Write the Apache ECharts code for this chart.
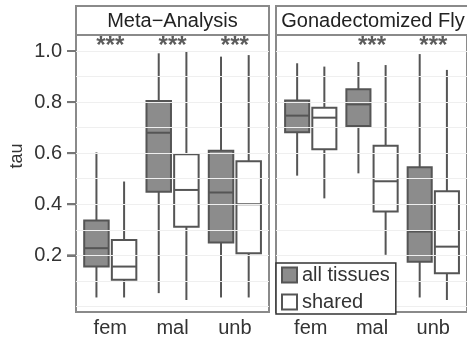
<!DOCTYPE html>
<html>
<head>
<meta charset="utf-8">
<script src="https://cdn.jsdelivr.net/npm/echarts@6/dist/echarts.min.js"></script>
<style>
html,body{margin:0;padding:0;background:#fff;}
#chart{width:467px;height:342px;}
</style>
</head>
<body>
<div id="chart"></div>
<script>
// ---- data ----
const categories = ['fem', 'mal', 'unb'];
const panelTitles = ['Meta\u2212Analysis', 'Gonadectomized Fly'];
const seriesNames = ['all tissues', 'shared'];
// [lower whisker, Q1, median, Q3, upper whisker]
const metaAll    = [[0.035, 0.156, 0.228, 0.336, 0.603], [0.052, 0.449, 0.680, 0.804, 0.991], [0.035, 0.250, 0.446, 0.609, 0.978]];
const metaShared = [[0.035, 0.104, 0.156, 0.260, 0.489], [0.025, 0.312, 0.456, 0.596, 0.997], [0.035, 0.208, 0.400, 0.568, 0.984]];
const gonadAll    = [[0.512, 0.682, 0.747, 0.806, 0.952], [0.521, 0.706, 0.791, 0.850, 0.957], [0.035, 0.175, 0.293, 0.545, 0.988]];
const gonadShared = [[0.423, 0.615, 0.739, 0.778, 0.939], [0.202, 0.372, 0.490, 0.629, 0.945], [0.025, 0.130, 0.234, 0.451, 0.926]];
const metaStars  = ['***', '***', '***'];
const gonadStars = ['', '***', '***'];
const yTicks = [0.2, 0.4, 0.6, 0.8, 1.0];
const gridValues = [0.0, 0.1, 0.2, 0.3, 0.4, 0.5, 0.6, 0.7, 0.8, 0.9, 1.0];

// ---- style ----
const FONT = 'Liberation Sans';
const PANEL = '#8a8a8a';
const LINE = '#555555';
const FILL_ALL = '#8c8c8c';
const FILL_SHARED = '#ffffff';
const OFFSET = 0.222;
const BOXW = 0.393;
const STAR_Y = 1.02;
const TICK_LEN = 9;

function boxRenderer(offset, fill) {
  return function (params, api) {
    const xi = api.value(0) + offset;
    const pLow = api.coord([xi, api.value(1)]);
    const pQ1 = api.coord([xi, api.value(2)]);
    const pMed = api.coord([xi, api.value(3)]);
    const pQ3 = api.coord([xi, api.value(4)]);
    const pUp = api.coord([xi, api.value(5)]);
    const bw = api.size([1, 0])[0] * BOXW;
    const x = pMed[0];
    return {
      type: 'group',
      children: [
        { type: 'line', shape: { x1: x, y1: pUp[1], x2: x, y2: pQ3[1] }, style: { stroke: LINE, lineWidth: 2 } },
        { type: 'line', shape: { x1: x, y1: pQ1[1], x2: x, y2: pLow[1] }, style: { stroke: LINE, lineWidth: 2 } },
        { type: 'rect', shape: { x: x - bw / 2, y: pQ3[1], width: bw, height: pQ1[1] - pQ3[1] }, style: { fill: fill, stroke: LINE, lineWidth: 2 } },
        { type: 'line', shape: { x1: x - bw / 2, y1: pMed[1], x2: x + bw / 2, y2: pMed[1] }, style: { stroke: LINE, lineWidth: 2 } }
      ]
    };
  };
}

function toData(arr) { return arr.map((v, i) => [i].concat(v)); }

const chart = echarts.init(document.getElementById('chart'), null, { renderer: 'canvas' });

const grids = [
  { left: 76, top: 35, width: 193, height: 277, show: true, borderColor: PANEL, borderWidth: 2, backgroundColor: 'transparent' },
  { left: 276, top: 35, width: 194, height: 277, show: true, borderColor: PANEL, borderWidth: 2, backgroundColor: 'transparent' }
];

function xAxisFor(idx, min, max) {
  return {
    type: 'value', gridIndex: idx, min: min, max: max,
    axisLine: { show: false, onZero: false }, axisTick: { show: false }, splitLine: { show: false },
    axisLabel: {
      customValues: [0, 1, 2],
      formatter: v => categories[Math.round(v)],
      fontFamily: FONT, fontSize: 20, color: '#333', margin: 6
    }
  };
}
function yAxisFor(idx, showLabels) {
  return {
    type: 'value', gridIndex: idx, min: -0.0219, max: 1.0627,
    show: showLabels,
    axisLine: { show: true, onZero: false, lineStyle: { color: PANEL, width: 2 } },
    splitLine: { show: false },
    axisTick: { show: true, customValues: yTicks, length: TICK_LEN, lineStyle: { color: '#777', width: 2 } },
    axisLabel: {
      customValues: yTicks,
      formatter: v => v.toFixed(1),
      fontFamily: FONT, fontSize: 20, color: '#333', margin: 14
    }
  };
}

function gridSeries(idx) {
  return {
    type: 'line', xAxisIndex: idx, yAxisIndex: idx, data: [], silent: true, z: 0,
    markLine: {
      silent: true, symbol: 'none', label: { show: false },
      lineStyle: { color: '#efefef', width: 1, type: 'solid' },
      data: gridValues.map(v => ({ yAxis: v }))
    }
  };
}
// y-axis tick marks, drawn just outside the left panel through the y scale
function tickSeries() {
  return {
    type: 'custom', xAxisIndex: 0, yAxisIndex: 0, silent: true, z: 2, clip: false,
    encode: { y: 0 },
    data: yTicks.map(v => [v]),
    renderItem: function (params, api) {
      const cs = params.coordSys;
      const y = api.coord([0, api.value(0)])[1];
      return { type: 'line', shape: { x1: cs.x - TICK_LEN, y1: y, x2: cs.x, y2: y }, style: { stroke: '#777', lineWidth: 2 } };
    }
  };
}
function boxSeries(idx, name, arr, offset, fill) {
  return {
    type: 'custom', name: name, xAxisIndex: idx, yAxisIndex: idx, z: 3,
    renderItem: boxRenderer(offset, fill),
    itemStyle: { color: fill, borderColor: LINE, borderWidth: 2 },
    encode: { x: 0, y: [1, 2, 3, 4, 5] },
    data: toData(arr)
  };
}
function starSeries(idx, stars) {
  return {
    type: 'scatter', xAxisIndex: idx, yAxisIndex: idx, symbolSize: 0, silent: true, z: 4,
    data: stars.map((s, i) => [i, STAR_Y]),
    label: {
      show: true, position: 'inside',
      formatter: p => stars[p.dataIndex],
      fontFamily: FONT, fontSize: 24, fontWeight: 'bold', color: '#333'
    }
  };
}

const option = {
  animation: false,
  backgroundColor: '#fff',
  grid: grids,
  xAxis: [xAxisFor(0, -0.55, 2.548), xAxisFor(1, -0.567, 2.55)],
  yAxis: [yAxisFor(0, true), yAxisFor(1, false)],
  legend: {
    orient: 'vertical', left: 276, top: 263,
    icon: 'rect', itemWidth: 15, itemHeight: 15, itemGap: 7, itemTextGap: 10,
    padding: [2, 6, 2, 5],
    backgroundColor: '#fff', borderColor: '#333', borderWidth: 1.5, borderRadius: 0,
    textStyle: { fontFamily: FONT, fontSize: 20, color: '#333' },
    selectedMode: false,
    data: [
      { name: seriesNames[0], itemStyle: { color: FILL_ALL, borderColor: LINE, borderWidth: 2 } },
      { name: seriesNames[1], itemStyle: { color: FILL_SHARED, borderColor: LINE, borderWidth: 2 } }
    ],
    z: 10
  },
  graphic: [
    { type: 'rect', shape: { x: 76, y: 6, width: 193, height: 29 }, style: { fill: '#fff', stroke: PANEL, lineWidth: 2 }, z: 5 },
    { type: 'text', x: 172.5, y: 21, style: { text: panelTitles[0], textAlign: 'center', textVerticalAlign: 'middle', font: '20px "Liberation Sans"', fill: '#222' }, z: 6 },
    { type: 'rect', shape: { x: 276, y: 6, width: 194, height: 29 }, style: { fill: '#fff', stroke: PANEL, lineWidth: 2 }, z: 5 },
    { type: 'text', x: 373, y: 21, style: { text: panelTitles[1], textAlign: 'center', textVerticalAlign: 'middle', font: '20px "Liberation Sans"', fill: '#222' }, z: 6 },
    { type: 'text', x: 17, y: 156, rotation: Math.PI / 2, style: { text: 'tau', textAlign: 'center', textVerticalAlign: 'middle', font: '18px "Liberation Sans"', fill: '#333' }, z: 6 }
  ],
  series: [
    gridSeries(0), gridSeries(1), tickSeries(),
    boxSeries(0, seriesNames[0], metaAll, -OFFSET, FILL_ALL),
    boxSeries(0, seriesNames[1], metaShared, OFFSET, FILL_SHARED),
    boxSeries(1, seriesNames[0], gonadAll, -OFFSET, FILL_ALL),
    boxSeries(1, seriesNames[1], gonadShared, OFFSET, FILL_SHARED),
    starSeries(0, metaStars), starSeries(1, gonadStars)
  ]
};
chart.setOption(option);
</script>
</body>
</html>
